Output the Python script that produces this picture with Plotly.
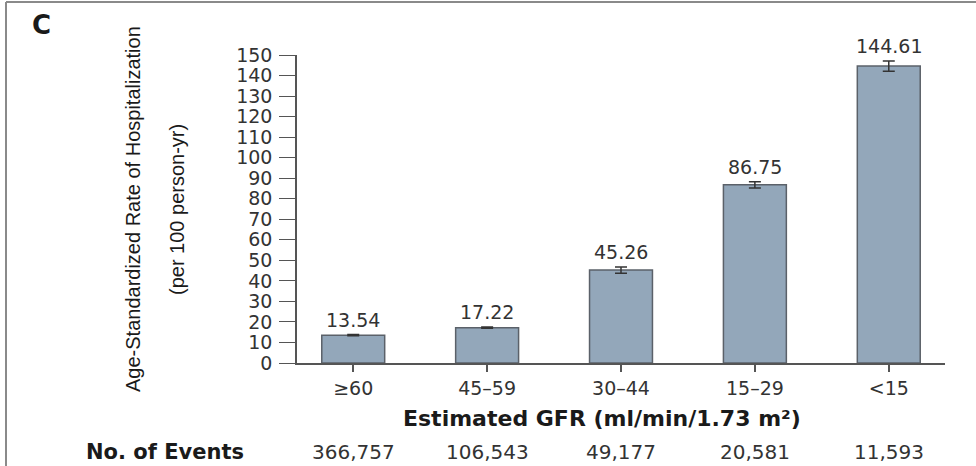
import plotly.graph_objects as go

# GFR categories and age-standardized hospitalization rates
categories = ["≥60", "45–59", "30–44", "15–29", "<15"]
rates = [13.54, 17.22, 45.26, 86.75, 144.61]
rate_err = [0.3, 0.3, 1.5, 1.5, 2.5]
events = ["366,757", "106,543", "49,177", "20,581", "11,593"]
y_ticks = list(range(0, 151, 10))

W, H = 976, 466
ML, MR, MT, MB = 297, 31, 55, 103
PW, PH = W - ML - MR, H - MT - MB

def px_x(px):
    return (px - ML) / PW

def px_y(py):
    return (H - MB - py) / PH

TXT = "#333333"
DARK = "#1a1a1a"
FONT = "DejaVu Sans"
NARROW = "Liberation Sans Narrow, Liberation Sans"

fig = go.Figure()
fig.add_trace(go.Bar(
    x=list(range(len(categories))),
    y=rates,
    width=0.47,
    marker=dict(color="#93a7ba", line=dict(color="#5b6169", width=1.5)),
    error_y=dict(type="data", array=rate_err, color="#333333", thickness=1.5, width=6),
    hoverinfo="skip",
))

annotations = []
for i, (v, e) in enumerate(zip(rates, rate_err)):
    annotations.append(dict(
        x=i, y=v + e, xref="x", yref="y", text=f"{v:.2f}", showarrow=False,
        yanchor="bottom", yshift=2, font=dict(family=FONT, size=19, color=TXT),
    ))
for i, n in enumerate(events):
    annotations.append(dict(
        x=i, y=px_y(452), xref="x", yref="paper", text=n, showarrow=False,
        yanchor="middle", font=dict(family=FONT, size=20, color=TXT),
    ))
annotations += [
    dict(x=px_x(165), y=px_y(452), xref="paper", yref="paper", text="<b>No. of Events</b>",
         showarrow=False, xanchor="center", yanchor="middle",
         font=dict(family=FONT, size=21, color=DARK)),
    dict(x=px_x(602), y=px_y(418), xref="paper", yref="paper",
         text="<b>Estimated GFR (ml/min/1.73 m²)</b>", showarrow=False,
         xanchor="center", yanchor="middle", font=dict(family=FONT, size=22, color=DARK)),
    dict(x=px_x(133), y=px_y(209), xref="paper", yref="paper",
         text="Age-Standardized Rate of Hospitalization", textangle=-90, showarrow=False,
         xanchor="center", yanchor="middle", font=dict(family=NARROW, size=20, color=DARK)),
    dict(x=px_x(177), y=px_y(210), xref="paper", yref="paper",
         text="(per 100 person-yr)", textangle=-90, showarrow=False,
         xanchor="center", yanchor="middle", font=dict(family=NARROW, size=20, color=DARK)),
    dict(x=px_x(42), y=px_y(25), xref="paper", yref="paper", text="<b>C</b>",
         showarrow=False, xanchor="center", yanchor="middle",
         font=dict(family=FONT, size=26, color=DARK)),
]

# panel frame (left and top edges)
shapes = [
    dict(type="line", xref="paper", yref="paper", x0=px_x(6), x1=px_x(6),
         y0=px_y(470), y1=px_y(2), line=dict(color="#8a8a8a", width=2)),
    dict(type="line", xref="paper", yref="paper", x0=px_x(6), x1=px_x(980),
         y0=px_y(2), y1=px_y(2), line=dict(color="#8a8a8a", width=2)),
]

fig.update_layout(
    width=W, height=H,
    margin=dict(l=ML, r=MR, t=MT, b=MB),
    paper_bgcolor="white", plot_bgcolor="white",
    showlegend=False,
    annotations=annotations,
    shapes=shapes,
    xaxis=dict(
        range=[-0.42, 4.42], tickmode="array", tickvals=list(range(len(categories))),
        ticktext=categories, ticks="outside", ticklen=7, tickwidth=1.5, tickcolor="#555",
        showline=True, linecolor="#555", linewidth=1.5, showgrid=False, zeroline=False,
        tickfont=dict(family=FONT, size=19, color=TXT),
    ),
    yaxis=dict(
        range=[0, 150], tickmode="array", tickvals=y_ticks, ticks="outside", ticklen=16,
        tickwidth=1.2, tickcolor="#555", showline=True, linecolor="#555", linewidth=1.5,
        showgrid=False, zeroline=False, ticklabelstandoff=3,
        tickfont=dict(family=FONT, size=19, color=TXT),
    ),
)

fig.write_html("out.html")
